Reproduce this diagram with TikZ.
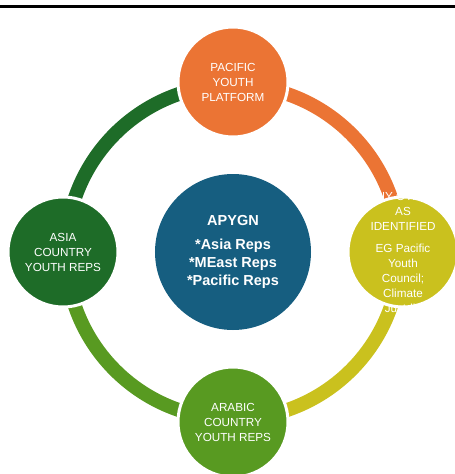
\documentclass[tikz,border=0pt]{standalone}
\usepackage{fontspec}
\setmainfont{Liberation Sans}

\definecolor{pyporange}{RGB}{235,116,52}
\definecolor{asiagreen}{RGB}{30,108,40}
\definecolor{arabgreen}{RGB}{88,154,33}
\definecolor{othyellow}{RGB}{202,193,30}
\definecolor{apygnblue}{RGB}{22,94,128}

\tikzstyle{member}=[circle,
                        minimum size=110pt,
                        inner sep=0pt,
                        draw=white,
                        line width=3pt,
                        text=white,
                        align=center,
                        font=\fontsize{11.7}{15}\selectfont]
\tikzstyle{core}=[circle,
                        minimum size=156pt,
                        inner sep=0pt,
                        fill=apygnblue,
                        text=white,
                        align=center,
                        font=\fontsize{14.5}{18}\selectfont\bfseries]
\tikzstyle{ring}=[line width=14pt]

\begin{document}
\begin{tikzpicture}[x=1pt,y=1pt]
  \clip (-233,-222) rectangle (222,252);
  \coordinate (centre) at (0,0);

  % The rule at the top of the page:
  \coordinate (ruleL) at (-233,245.5);
  \coordinate (ruleR) at (222,245.5);
  \draw[line width=3pt] (ruleL) -- (ruleR);

  % The ring is drawn first, one coloured quarter at a time:
  \draw[ring, draw=pyporange] (centre) ++(90:167) arc[start angle=90, end angle=0, radius=167];
  \draw[ring, draw=othyellow] (centre) ++(0:167) arc[start angle=0, end angle=-90, radius=167];
  \draw[ring, draw=arabgreen] (centre) ++(-90:167) arc[start angle=-90, end angle=-180, radius=167];
  \draw[ring, draw=asiagreen] (centre) ++(180:167) arc[start angle=180, end angle=90, radius=167];

  % The member circles sit on the ring, the network in the middle:
  \node (PYP) [member, fill=pyporange] at (90:170) {PACIFIC\\YOUTH\\PLATFORM};
  \node (ACYR) [member, fill=asiagreen] at (180:170) {ASIA\\COUNTRY\\YOUTH REPS};
  \node (RCYR) [member, fill=arabgreen] at (-90:170) {ARABIC\\COUNTRY\\YOUTH REPS};
  \node (other) [member, fill=othyellow,
        label={[text=white, align=center, font=\fontsize{11.7}{15}\selectfont]center:{ANY OTHER\\AS\\IDENTIFIED\\[7pt]EG Pacific\\Youth\\Council;\\Climate\\Justdiv}}]
        at (0:170) {};
  \node (APYGN) [core] at (centre) {APYGN\\[6pt]*Asia Reps\\*MEast Reps\\*Pacific Reps};

\end{tikzpicture}
\end{document}
